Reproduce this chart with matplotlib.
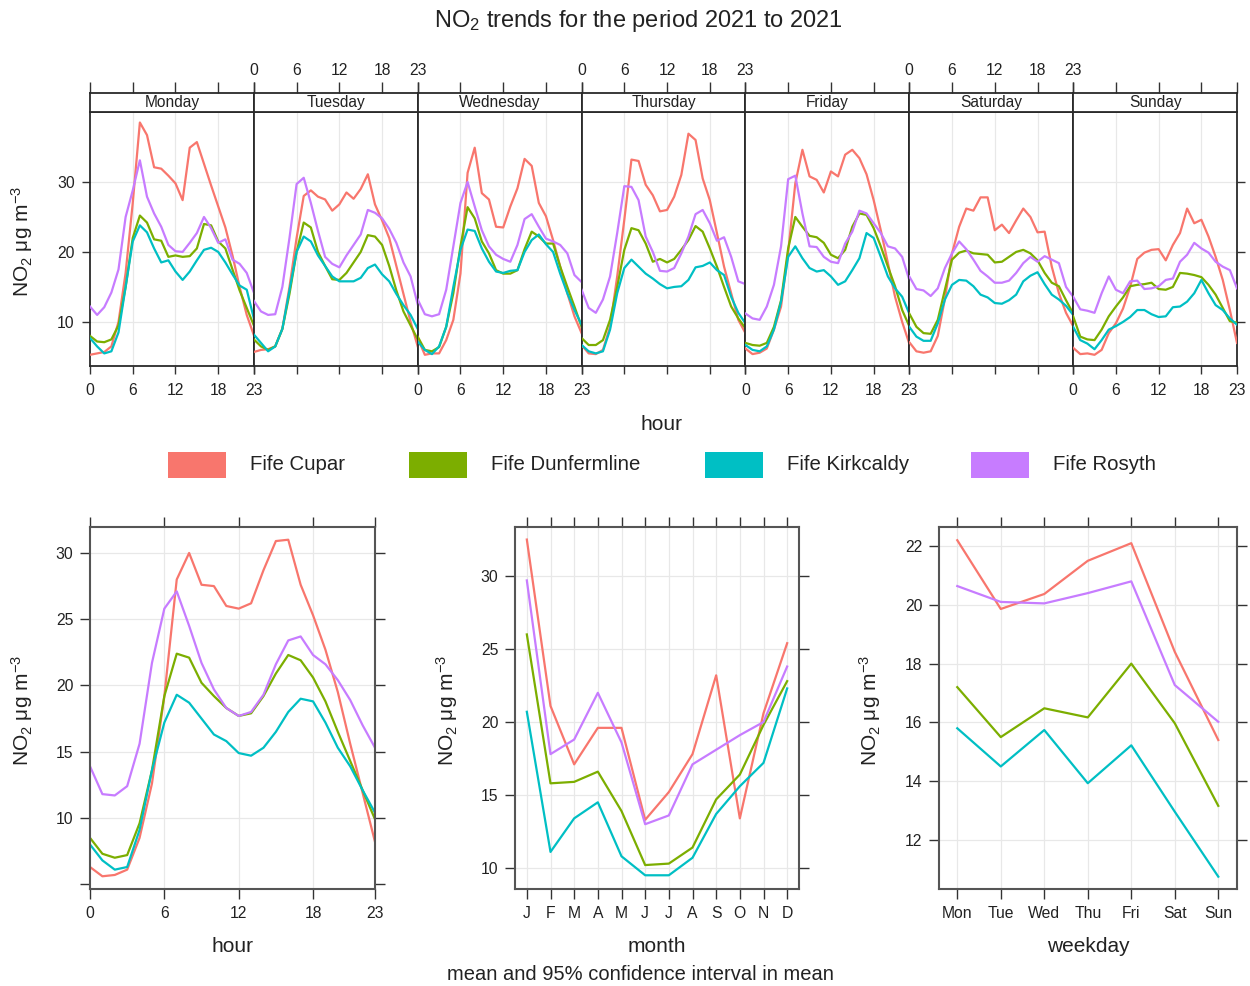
"""
NO2 time variation - Fife sites, 2021
"""

import matplotlib
matplotlib.use('Agg')
import matplotlib.pyplot as plt
from matplotlib.patches import Rectangle

plt.rcParams['font.family'] = ['Liberation Sans', 'DejaVu Sans']
plt.rcParams['mathtext.fontset'] = 'custom'
plt.rcParams['mathtext.rm'] = 'Liberation Sans'
plt.rcParams['mathtext.it'] = 'Liberation Sans'

W, H = 1250, 986

sites = ["Fife Cupar", "Fife Dunfermline", "Fife Kirkcaldy", "Fife Rosyth"]
colors = ["#F8766D", "#7CAE00", "#00BFC4", "#C77CFF"]

days = ["Monday", "Tuesday", "Wednesday", "Thursday", "Friday", "Saturday", "Sunday"]
hours = list(range(24))

# day x hour means (Mon..Sun, 24 values each)
cupar_dayhour = [
    [5.3, 5.5, 5.7, 6.5, 10, 17, 27, 38.5, 36.7, 32.1, 31.9, 30.9, 29.8, 27.4, 34.9, 35.7, 32.6, 29.5, 26.5, 23.5, 19.5, 15, 11, 8.1],
    [5.7, 6.0, 6.1, 6.5, 9, 15, 22, 28, 28.8, 27.9, 27.5, 25.9, 26.8, 28.5, 27.6, 29, 31.1, 26.8, 24.5, 22, 18, 14, 10, 6.5],
    [7.7, 5.3, 5.5, 5.5, 7.4, 10.3, 16.9, 31.3, 34.9, 28.4, 27.5, 23.6, 23.5, 26.5, 29.1, 33.3, 32.3, 27, 25.1, 21.7, 17.9, 14.1, 10.8, 8.4],
    [6.7, 5.5, 5.4, 6, 9.3, 16.5, 24.6, 33.2, 33, 29.6, 28.1, 25.8, 26, 27.9, 31, 36.9, 36, 30.5, 27.4, 22.7, 17.9, 14.1, 10.3, 8.4],
    [6.2, 5.4, 5.6, 6.2, 8.9, 12.2, 20, 29.8, 34.6, 30.8, 30.3, 28.5, 31.5, 30.8, 33.9, 34.6, 33.4, 31.1, 27.4, 23.1, 18.4, 13.6, 10, 6.9],
    [7.1, 5.8, 5.6, 5.8, 8, 13.3, 19.8, 23.6, 26.2, 25.9, 27.8, 27.8, 23.1, 23.9, 22.7, 24.5, 26.2, 25, 22.8, 22.9, 17.9, 14.1, 11.3, 9.4],
    [6.3, 5.4, 5.5, 5.3, 6, 8.4, 9.8, 11.9, 15, 19, 19.9, 20.3, 20.4, 18.8, 21, 22.7, 26.2, 24.1, 24.6, 22.2, 19.3, 16, 11.7, 7],
]
dunfermline_dayhour = [
    [8.0, 7.2, 7.1, 7.5, 9.5, 15, 22, 25.2, 24.2, 21.8, 21.6, 19.3, 19.5, 19.3, 19.4, 20.5, 24, 23.8, 21.5, 20.5, 17.5, 14.5, 12, 9.5],
    [7.5, 6.5, 6, 6.5, 9, 14, 20, 24.2, 23.5, 20, 18, 16.1, 16, 17, 18.5, 20, 22.4, 22.2, 21, 18, 14.5, 11.5, 9.5, 7.5],
    [7.9, 6, 5.8, 6.4, 9.3, 14.1, 20.8, 26.4, 24.8, 21.5, 19.8, 17.4, 16.9, 16.9, 17.4, 20.4, 22.9, 22.2, 21.2, 21.2, 17.9, 15, 12.2, 9.3],
    [7.7, 6.7, 6.7, 7.4, 10.3, 15, 20.3, 23.4, 23.1, 21.2, 18.6, 19, 18.5, 19, 20.3, 21.7, 23.7, 22.9, 20.5, 17.9, 15, 12.2, 10.5, 9.1],
    [7, 6.7, 6.6, 7, 9.3, 13.1, 20.5, 25, 23.6, 22.3, 22.1, 21.3, 19.6, 19.1, 20.3, 23.6, 25.5, 25.3, 23.4, 20.8, 17.9, 15.1, 11.7, 9.4],
    [11.2, 9.3, 8.4, 8.3, 10.3, 14.6, 18.9, 19.9, 20.2, 19.8, 19.7, 19.6, 18.5, 18.6, 19.3, 20, 20.3, 19.8, 18.8, 17, 15.6, 15.1, 13.1, 11.2],
    [10.8, 7.9, 7.5, 7.4, 8.9, 10.8, 12.2, 13.5, 15.1, 15.3, 15.4, 15.6, 14.7, 14.6, 15, 17, 16.9, 16.7, 16.4, 15.3, 13.9, 12, 10.1, 9.9],
]
kirkcaldy_dayhour = [
    [7.7, 6.5, 5.5, 5.8, 8.5, 15, 21.5, 23.8, 22.8, 20.5, 18.5, 18.8, 17.2, 16, 17.2, 18.8, 20.3, 20.6, 20, 18.5, 16.8, 15.2, 14.6, 10.5],
    [8.2, 7, 5.8, 6.5, 9, 14.5, 20, 22.2, 21.5, 19.5, 18, 16.5, 15.8, 15.8, 15.8, 16.3, 17.7, 18.2, 16.8, 15.8, 14, 12.4, 11, 9],
    [7.2, 6, 5.4, 6.5, 9.3, 15, 20.3, 23.2, 23, 20.5, 18.6, 17.2, 17, 17.3, 17.4, 20, 21.7, 22.5, 21.1, 20, 16.9, 14.1, 11.7, 9.6],
    [6.7, 5.8, 5.5, 5.8, 8.9, 14.1, 17.7, 18.9, 17.9, 16.9, 16.2, 15.4, 14.8, 15, 15.1, 16, 17.8, 18, 18.5, 17.4, 16.7, 13.6, 11.3, 9.8],
    [6.7, 6, 5.8, 6.5, 8.9, 12.9, 19.3, 20.8, 19.1, 17.7, 17.2, 17.4, 16.5, 15.3, 15.8, 17.4, 19.1, 22.7, 22, 19.3, 16.5, 14.8, 13.6, 11.2],
    [9.3, 7.9, 7.3, 7.3, 9.8, 13.2, 15.3, 16, 15.9, 15.1, 13.9, 13.5, 12.7, 12.6, 13.1, 13.9, 15.8, 16.6, 17.1, 15.4, 13.9, 13.2, 12.3, 11],
    [9.3, 7.4, 6.9, 6.1, 7.4, 8.9, 9.4, 10, 10.7, 11.7, 11.7, 11.1, 10.7, 10.8, 12.1, 12.2, 12.9, 14.1, 16, 14.1, 12.4, 11.7, 10.5, 9.6],
]
rosyth_dayhour = [
    [12.2, 11, 12.1, 14.2, 17.5, 25, 28.8, 33.1, 27.9, 25.5, 23.6, 21, 20.1, 20, 21.3, 22.7, 25, 23.4, 21.3, 21.8, 18.9, 18.3, 17, 14.2],
    [13, 11.5, 11, 11.1, 15, 22, 29.7, 30.6, 27, 23, 19.3, 18.3, 17.8, 19.5, 21, 22.5, 26, 25.6, 24.8, 23.3, 21.3, 18.5, 16.5, 12.5],
    [13.2, 11.1, 10.8, 11.1, 14.6, 20.8, 27, 30, 26.5, 23.1, 20.8, 19.6, 19, 18.6, 21, 24.7, 25.4, 23.6, 21.9, 21.5, 21, 19.8, 16.7, 15.7],
    [14.6, 12, 11.3, 13.2, 16.5, 22.7, 29.4, 29.3, 27.4, 22.2, 20, 17.3, 17.2, 17.7, 19.8, 22.2, 25.4, 26, 24.1, 21.6, 22.1, 19.3, 15.8, 15.4],
    [11.2, 10.5, 10.3, 12.2, 15.3, 20.8, 30.4, 30.9, 25.5, 20.8, 20.7, 19.3, 18.6, 18.4, 21.2, 22.9, 25.9, 25.5, 24.1, 22.7, 20.8, 20.5, 19.3, 16],
    [16.5, 14.7, 14.5, 13.7, 14.8, 17.7, 19.8, 21.5, 20.4, 18.9, 17.3, 16.5, 15.6, 15.6, 15.9, 17, 18.4, 19.3, 18.6, 19.4, 18.9, 18.4, 15, 13.6],
    [13.6, 11.8, 11.6, 11.3, 14.1, 16.5, 14.6, 14.1, 15.8, 15.9, 14.7, 14.8, 15.1, 16, 16.2, 18.6, 19.6, 21.3, 20.5, 19.9, 18.6, 17.9, 17.4, 14.8],
]

# hour of day means
cupar_hour = [6.3, 5.6, 5.7, 6.1, 8.5, 12.6, 19.2, 28, 30, 27.6, 27.5, 26, 25.8, 26.2, 28.7, 30.9, 31, 27.6, 25.3, 22.7, 19.5, 15.6, 11.9, 8.2]
dunfermline_hour = [8.5, 7.3, 7, 7.2, 9.6, 13.6, 19.2, 22.4, 22.1, 20.2, 19.2, 18.3, 17.7, 17.9, 19.2, 20.9, 22.3, 21.9, 20.6, 18.8, 16.5, 14.3, 12.1, 9.9]
kirkcaldy_hour = [8, 6.8, 6.1, 6.3, 9.1, 13.6, 17.2, 19.3, 18.7, 17.5, 16.3, 15.8, 14.9, 14.7, 15.3, 16.5, 18, 19, 18.8, 17.2, 15.3, 13.9, 12.1, 10.4]
rosyth_hour = [13.9, 11.8, 11.7, 12.4, 15.6, 21.7, 25.8, 27.1, 24.5, 21.7, 19.7, 18.3, 17.7, 18, 19.3, 21.6, 23.4, 23.7, 22.3, 21.6, 20.4, 18.9, 17, 15.3]

# monthly means
months = ["J", "F", "M", "A", "M", "J", "J", "A", "S", "O", "N", "D"]
cupar_month = [32.5, 21.1, 17.1, 19.6, 19.6, 13.3, 15.2, 17.8, 23.2, 13.4, 20.6, 25.4]
dunfermline_month = [26, 15.8, 15.9, 16.6, 13.9, 10.2, 10.3, 11.4, 14.7, 16.4, 19.8, 22.8]
kirkcaldy_month = [20.7, 11.1, 13.4, 14.5, 10.8, 9.5, 9.5, 10.7, 13.7, 15.6, 17.2, 22.3]
rosyth_month = [29.7, 17.8, 18.8, 22, 18.6, 13, 13.6, 17.1, 18.1, 19.1, 20, 23.8]

# weekday means
weekdays = ["Mon", "Tue", "Wed", "Thu", "Fri", "Sat", "Sun"]
cupar_wday = [22.2, 19.86, 20.37, 21.5, 22.1, 18.4, 15.4]
dunfermline_wday = [17.2, 15.5, 16.48, 16.17, 18.0, 15.97, 13.16]
kirkcaldy_wday = [15.8, 14.5, 15.74, 13.93, 15.22, 12.96, 10.75]
rosyth_wday = [20.64, 20.1, 20.05, 20.4, 20.8, 17.27, 16.02]

dayhour_all = [cupar_dayhour, dunfermline_dayhour, kirkcaldy_dayhour, rosyth_dayhour]
hour_all = [cupar_hour, dunfermline_hour, kirkcaldy_hour, rosyth_hour]
month_all = [cupar_month, dunfermline_month, kirkcaldy_month, rosyth_month]
wday_all = [cupar_wday, dunfermline_wday, kirkcaldy_wday, rosyth_wday]

YLAB = r'NO$_2$ μg m$^{-3}$'
FRAME = '#2a2a2a'
GRID = '#e8e8e8'
LW = 1.6
TICK_FS = 11.3
LAB_FS = 15
TXT = '#222222'


def rect(l, t, r, b):
    return [l / W, 1 - b / H, (r - l) / W, (b - t) / H]


def style_frame(ax, color=FRAME, lw=1.3, length=6):
    for s in ax.spines.values():
        s.set_color(color)
        s.set_linewidth(lw)
    ax.tick_params(colors='#333333', labelcolor=TXT, labelsize=TICK_FS,
                   direction='out', length=length, width=1.0, pad=5)


fig = plt.figure(figsize=(W / 100, H / 100), dpi=100)
fig.patch.set_facecolor('white')

fig.text(638 / W, 1 - 21 / H, r'NO$_2$ trends for the period 2021 to 2021',
         ha='center', va='center', fontsize=17, color=TXT)

# ---- top: day x hour panels ----
left, right = 90, 1237
pw = (right - left) / 7
for i, day in enumerate(days):
    l = left + i * pw
    ax = fig.add_axes(rect(l, 112, l + pw, 366))
    st = fig.add_axes(rect(l, 93, l + pw, 112), sharex=ax)

    for j in [6, 12, 18]:
        ax.axvline(j, color=GRID, lw=0.9, zorder=0)
    for v in [10, 20, 30]:
        ax.axhline(v, color=GRID, lw=0.9, zorder=0)
    for k, data in enumerate(dayhour_all):
        ax.plot(hours, data[i], color=colors[k], lw=LW, zorder=3)

    ax.set_xlim(0, 23)
    ax.set_ylim(3.7, 40)
    ax.set_xticks([0, 6, 12, 18, 23])
    style_frame(ax)
    ax.set_yticks([10, 20, 30])
    if i == 0:
        ax.tick_params(axis='y', left=True, right=False, labelleft=True)
    elif i == 6:
        ax.tick_params(axis='y', left=False, right=True, labelleft=False, labelright=False)
    else:
        ax.tick_params(axis='y', left=False, labelleft=False)
    ax.tick_params(axis='x', bottom=True, top=False, labelbottom=(i % 2 == 0), pad=6)

    st.set_ylim(0, 1)
    st.set_yticks([])
    style_frame(st, length=8)
    st.tick_params(axis='x', bottom=False, labelbottom=False, top=True,
                   labeltop=(i % 2 == 1), pad=3)
    st.text(11.5, 0.5, day, ha='center', va='center', fontsize=11.2, color=TXT)

fig.text(22 / W, 1 - 241 / H, YLAB, rotation=90, ha='center', va='center',
         fontsize=LAB_FS, color=TXT)
fig.text(662 / W, 1 - 425 / H, 'hour', ha='center', va='center', fontsize=LAB_FS, color=TXT)

# ---- legend ----
leg_x = [168, 409, 705, 971]
for k, name in enumerate(sites):
    fig.patches.append(Rectangle((leg_x[k] / W, 1 - 478 / H), 58 / W, 26 / H,
                                 transform=fig.transFigure, facecolor=colors[k],
                                 edgecolor='none'))
    fig.text((leg_x[k] + 82) / W, 1 - 465 / H, name, ha='left', va='center',
             fontsize=14.7, color=TXT)

# ---- bottom: hour ----
ax = fig.add_axes(rect(90, 527, 375, 889))
for j in [6, 12, 18]:
    ax.axvline(j, color=GRID, lw=0.9, zorder=0)
for v in [10, 15, 20, 25, 30]:
    ax.axhline(v, color=GRID, lw=0.9, zorder=0)
for k, data in enumerate(hour_all):
    ax.plot(hours, data, color=colors[k], lw=LW)
ax.set_xlim(0, 23)
ax.set_ylim(4.64, 31.96)
ax.set_xticks([0, 6, 12, 18, 23])
ax.set_yticks([5, 10, 15, 20, 25, 30])
ax.set_yticklabels(['', '10', '15', '20', '25', '30'])
style_frame(ax, color='#555555', lw=1.5, length=7)
ax.tick_params(top=True, right=True)
ax.set_xlabel('hour', fontsize=LAB_FS, labelpad=12, color=TXT)
fig.text(22 / W, 1 - 710 / H, YLAB, rotation=90, ha='center', va='center',
         fontsize=LAB_FS, color=TXT)

# ---- bottom: month ----
ax = fig.add_axes(rect(515, 527, 799, 889))
mx = list(range(1, 13))
for j in mx:
    ax.axvline(j, color=GRID, lw=0.9, zorder=0)
for v in [10, 15, 20, 25, 30]:
    ax.axhline(v, color=GRID, lw=0.9, zorder=0)
for k, data in enumerate(month_all):
    ax.plot(mx, data, color=colors[k], lw=LW)
ax.set_xlim(0.5, 12.5)
ax.set_ylim(8.56, 33.36)
ax.set_xticks(mx)
ax.set_xticklabels(months)
ax.set_yticks([10, 15, 20, 25, 30])
style_frame(ax, color='#555555', lw=1.5, length=7)
ax.tick_params(top=True, right=True)
ax.set_xlabel('month', fontsize=LAB_FS, labelpad=12, color=TXT)
fig.text(447 / W, 1 - 710 / H, YLAB, rotation=90, ha='center', va='center',
         fontsize=LAB_FS, color=TXT)

# ---- bottom: weekday ----
ax = fig.add_axes(rect(939, 527, 1237, 889))
wx = list(range(1, 8))
for j in wx:
    ax.axvline(j, color=GRID, lw=0.9, zorder=0)
for v in [12, 14, 16, 18, 20, 22]:
    ax.axhline(v, color=GRID, lw=0.9, zorder=0)
for k, data in enumerate(wday_all):
    ax.plot(wx, data, color=colors[k], lw=LW)
ax.set_xlim(0.58, 7.43)
ax.set_ylim(10.33, 22.65)
ax.set_xticks(wx)
ax.set_xticklabels(weekdays)
ax.set_yticks([12, 14, 16, 18, 20, 22])
style_frame(ax, color='#555555', lw=1.5, length=7)
ax.tick_params(top=True, right=True)
ax.set_xlabel('weekday', fontsize=LAB_FS, labelpad=12, color=TXT)
fig.text(870 / W, 1 - 710 / H, YLAB, rotation=90, ha='center', va='center',
         fontsize=LAB_FS, color=TXT)

fig.text(640 / W, 1 - 975 / H, 'mean and 95% confidence interval in mean',
         ha='center', va='center', fontsize=14.5, color=TXT)

plt.savefig('out.png', dpi=100, facecolor='white')
plt.close()
